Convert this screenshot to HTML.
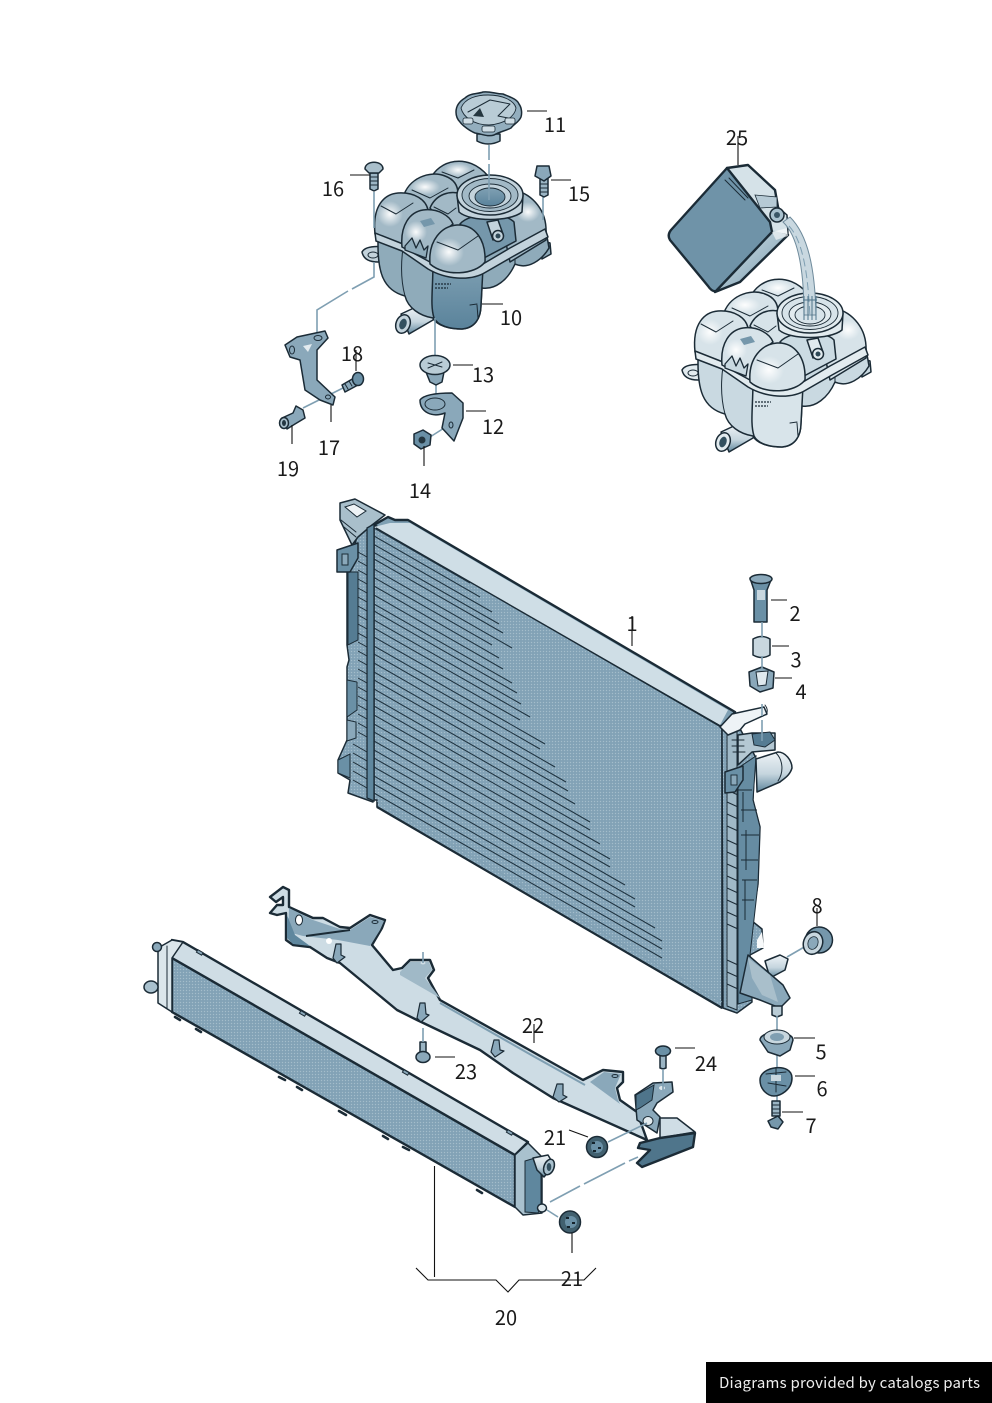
<!DOCTYPE html>
<html lang="en">
<head>
<meta charset="utf-8">
<title>Cooling system parts diagram</title>
<style>
html,body{margin:0;padding:0;background:#fff;width:992px;height:1403px;overflow:hidden}
svg{display:block}
.o{stroke:#1b2b36;stroke-width:1.5;stroke-linejoin:round;stroke-linecap:round}
.t{stroke:#1b2b36;stroke-width:1;fill:none;stroke-linecap:round;stroke-linejoin:round}
.b{stroke:#1b2b36;stroke-width:2.4;stroke-linejoin:round;stroke-linecap:round}
.l{stroke:#111;stroke-width:1.1;fill:none}
.p{stroke:#7f9fb2;stroke-width:1.6;fill:none}
text.n{font-family:"Noto Sans CJK JP","Liberation Sans",sans-serif;font-size:20px;fill:#1a1a1a;text-anchor:middle}
</style>
</head>
<body>
<svg width="992" height="1403" viewBox="0 0 992 1403" xmlns="http://www.w3.org/2000/svg">
<defs>
<pattern id="st" width="3" height="3" patternUnits="userSpaceOnUse"><rect width="3" height="3" fill="#86a5b8"/><rect width="1" height="1" fill="#a4bdcb"/><rect x="1.5" y="1.5" width="1" height="1" fill="#769aaf"/></pattern>
<radialGradient id="hl"><stop offset="0" stop-color="#fff" stop-opacity=".95"/><stop offset="1" stop-color="#fff" stop-opacity="0"/></radialGradient>
<linearGradient id="pipe" x1="0" y1="0" x2="0" y2="1"><stop offset="0" stop-color="#eef3f6"/><stop offset=".55" stop-color="#c5d5de"/><stop offset="1" stop-color="#5f869c"/></linearGradient>
<linearGradient id="front" x1="0" y1="0" x2="0" y2="1"><stop offset="0" stop-color="#7fa0b3"/><stop offset="1" stop-color="#5a839b"/></linearGradient>
<linearGradient id="jug" x1="0" y1="0" x2="1" y2="1"><stop offset="0" stop-color="#d9e5ea"/><stop offset=".55" stop-color="#a0bac8"/><stop offset="1" stop-color="#5a8197"/></linearGradient>
<g id="tank" style="stroke-linejoin:round">
  <path class="o" d="M362,252 Q366,245 385,247 L392,240 L392,262 L378,262 Q364,262 362,252Z" style="fill:var(--f)"/>
  <ellipse cx="373" cy="255" rx="5" ry="3" fill="#fff" class="t"/>
  <path class="o" d="M540,240 L550,243 L551,254 L542,259Z" style="fill:var(--b)"/>
  <path class="o" d="M401,314 L416,307 L436,312 L433,320 L409,334Z" fill="url(#pipe)"/>
  <ellipse cx="403" cy="324" rx="7" ry="9.5" transform="rotate(20 403 324)" style="fill:var(--f)" class="o"/>
  <ellipse cx="403" cy="324" rx="3.5" ry="5.5" transform="rotate(20 403 324)" fill="#33505f"/>
  <path class="o" d="M378,245 C378,270 382,290 405,296 C408,308 420,316 433,318 C437,326 450,329 462,329 C475,328 481,318 481,305 L482,288 C495,290 508,280 515,264 C528,270 542,260 549,248 L545,225 L378,225Z" style="fill:var(--b)"/>
  <path class="t" d="M403,248 C400,270 402,285 405,296"/>
  <path class="t" d="M482,268 L482,290"/>
  <path class="t" d="M515,245 V265"/>
  <path class="o" d="M433,262 C433,290 430,305 434,318 C438,326 450,329 462,329 C475,328 481,318 481,305 L483,268Z" style="fill:var(--c)"/>
  <path class="t" d="M477,305 L478,318 M470,305 L477,304"/>
  <path d="M435,284 h16 M435,288 h13" stroke="#1b2b36" stroke-width="1.2" stroke-dasharray="2 1"/>
  <path class="o" d="M430,180 C438,160 468,152 488,176 L470,210 L440,200Z" style="fill:var(--d)"/>
  <ellipse cx="458" cy="170" rx="14" ry="7" fill="url(#hl)"/>
  <path class="t" d="M442,172 L458,178 L474,170"/>
  <path class="o" d="M403,198 C408,178 430,170 445,176 C456,180 458,188 458,194 L425,215Z" style="fill:var(--d)"/>
  <ellipse cx="425" cy="187" rx="15" ry="8" fill="url(#hl)"/>
  <path class="t" d="M412,190 L430,198 L448,188"/>
  <path class="o" d="M512,190 C530,192 545,208 546,228 L546,240 L510,262 L500,215Z" style="fill:var(--d)"/>
  <ellipse cx="528" cy="212" rx="12" ry="10" fill="url(#hl)"/>
  <path class="o" d="M375,234 C372,205 385,194 398,193 C415,192 426,200 428,210 L408,232 L403,246 L385,238Z" style="fill:var(--d)"/>
  <ellipse cx="390" cy="214" rx="13" ry="13" fill="url(#hl)"/>
  <path class="t" d="M381,206 L396,214 L413,203"/>
  <path class="o" d="M430,208 C436,194 450,190 462,194 L480,225 L445,228Z" style="fill:var(--d)"/>
  <path class="t" d="M434,207 L448,214 L456,208"/>
  <path class="o" d="M375,233 L403,244 L430,262 C445,272 470,275 483,264 L510,248 L545,229 L548,237 L512,257 L486,272 C470,282 445,279 428,269 L402,251 L376,241Z" style="fill:var(--f)"/>
  <path class="o" d="M460,224 C470,212 505,212 514,222 L516,241 L484,258 L475,238Z" style="fill:var(--g)"/>
  <path class="o" d="M457,195 L459,212 C470,222 510,222 522,212 L523,195Z" style="fill:var(--f)"/>
  <ellipse cx="490" cy="195" rx="33" ry="20" style="fill:var(--f)" class="o"/>
  <ellipse cx="490" cy="195" rx="28" ry="16.5" style="fill:var(--d)" stroke="#1b2b36" stroke-width=".9"/>
  <ellipse cx="490" cy="196" rx="21" ry="12" style="fill:var(--f)" stroke="#1b2b36" stroke-width=".9"/>
  <ellipse cx="490" cy="197" rx="15" ry="9" style="fill:var(--c)" stroke="#1b2b36" stroke-width=".9"/>
  <path class="o" d="M487,222 L498,220 L503,234 L493,240Z" style="fill:var(--f)"/>
  <circle cx="498" cy="236" r="5.5" style="fill:var(--f)" class="o"/>
  <circle cx="498" cy="236" r="2.5" fill="#2e4856"/>
  <path class="o" d="M402,247 C400,225 410,212 423,210 C438,208 450,216 453,224 L436,238 L430,262Z" style="fill:var(--d)"/>
  <ellipse cx="416" cy="232" rx="11" ry="11" fill="url(#hl)"/>
  <path d="M420,221 L431,218 L435,224 L424,227Z" fill="#7597ab"/>
  <path d="M405,246 L412,238 L416,248 L420,240 L424,250 L428,246 L426,258 L405,250Z" stroke="#1b2b36" stroke-width="1.3" style="fill:var(--b)"/>
  <path class="o" d="M430,264 C428,240 442,226 457,225 C475,224 486,240 485,262 C475,275 445,277 430,264Z" style="fill:var(--d)"/>
  <ellipse cx="449" cy="252" rx="15" ry="14" fill="url(#hl)"/>
  <path class="t" d="M437,242 L458,250 L478,236"/>
</g>
</defs>

<rect width="992" height="1403" fill="#fff"/>

<use href="#tank" style="--b:#8fabba;--c:url(#front);--d:#a2b9c6;--f:#c3d3dc;--g:#7597ab"/>
<use href="#tank" x="320" y="118" style="--b:#c9d9e1;--c:#d8e4ea;--d:#d7e3e9;--f:#e2ebef;--g:#cbdbe3"/>

<g class="p">
<path d="M489,145 V160 M489,164 V200"/>
<path d="M374,192 V228 M374,262 V277 L352,289 M348,291 L317,310 V338"/>
<path d="M543,197 V220"/>
<path d="M435,318 V355 M436,385 V403 M430,437 L452,423 M303,408 L343,388"/>
</g>

<!-- cap 11 -->
<path class="o" fill="#9bb5c4" d="M477,134 H500 V141 Q488,147 477,141Z"/>
<path class="o" fill="#93aebe" d="M456,112 C456,105 460,101 465,98 C470,93 478,94 483,92 C490,91 496,94 503,94 C510,97 517,99 519,104 C522,108 522,114 521,117 C519,122 514,124 511,128 C505,131 499,132 494,135 C488,137 482,134 475,133 C470,131 463,126 460,122 C457,119 456,116 456,112Z"/>
<path fill="#b9ccd6" stroke="#1b2b36" stroke-width=".9" d="M461,108 C465,98 477,95 488,95 C502,95 514,100 516,108 C515,116 505,124 489,125 C474,125 463,117 461,108Z"/>
<path class="t" d="M468,112 L490,100 L510,104 L498,116 L508,118"/>
<path d="M473,116 L480,108 L484,117Z" fill="#24363f"/>
<rect x="482" y="126" width="13" height="6" rx="2" fill="#cfdde5" stroke="#1b2b36" stroke-width=".8"/>
<rect x="463" y="118" width="10" height="6" rx="2" fill="#cfdde5" stroke="#1b2b36" stroke-width=".8"/>
<rect x="505" y="118" width="10" height="6" rx="2" fill="#cfdde5" stroke="#1b2b36" stroke-width=".8"/>

<!-- screws top -->
<path class="o" fill="#9bb5c4" d="M370,173 H378 V189 L374,191 L370,189Z"/>
<path class="t" d="M370,177 h8 M370,181 h8 M370,185 h8"/>
<path class="o" fill="#a9bfcb" d="M365,169 C365,160 383,160 383,169 L379,173 H369Z"/>
<path class="o" fill="#9bb5c4" d="M540,178 H548 V195 L544,197 L540,195Z"/>
<path class="t" d="M540,184 h8 M540,188 h8 M540,192 h8"/>
<path class="o" fill="#8aa8ba" d="M535,176 L537,166 H549 L551,176 L544,181Z"/>

<!-- bracket 17 -->
<path class="o" fill="#8aa8ba" d="M285,345 L297,337 L325,331 L328,338 L317,350 L317,380 L335,397 L333,405 L320,400 L305,390 L300,360 L290,357Z"/>
<ellipse cx="318" cy="338" rx="4" ry="2.5" fill="#e3ebef" class="t"/>
<ellipse cx="292" cy="350" rx="2.5" ry="4" fill="#fff" class="t"/>
<path d="M303,346 L312,344 L308,352Z" fill="#e3ebef"/>
<ellipse cx="328" cy="397" rx="2.5" ry="2" fill="#fff" class="t"/>
<!-- 18 -->
<path class="o" fill="#8aa8ba" d="M342,385 L354,378 L358,385 L345,392Z"/>
<path class="t" d="M345,384 l3,5 M349,381 l3,5"/>
<ellipse cx="358" cy="379" rx="5.5" ry="6.5" fill="#6a90a6" class="o"/>
<!-- 19 -->
<path class="o" fill="#8aa8ba" d="M282,418 L293,413 L296,406 L303,410 L305,418 L295,424 L287,429Z"/>
<ellipse cx="284" cy="423" rx="4.5" ry="5.5" fill="#a9bfcb" class="o"/>
<ellipse cx="284" cy="423" rx="2" ry="3" fill="#233641"/>
<!-- 13 -->
<path class="o" fill="#8aa8ba" d="M426,372 L444,372 L442,382 L436,385 L430,382Z"/>
<ellipse cx="435" cy="365" rx="15" ry="9.5" fill="#b9ccd6" class="o"/>
<path class="t" d="M428,363 L442,367 M442,362 L428,368"/>
<!-- 12 -->
<path class="o" fill="#8aa8ba" d="M420,400 C425,393 445,393 452,393 L463,403 L463,418 L454,441 L442,428 L445,413 C432,418 420,412 420,400Z"/>
<ellipse cx="435" cy="404" rx="10" ry="6" fill="#fff" class="t"/>
<ellipse cx="451" cy="425" rx="2" ry="3" fill="#e3ebef" class="t"/>
<!-- 14 -->
<path class="o" fill="#6a90a6" d="M414,434 L423,430 L431,435 L430,445 L421,449 L414,444Z"/>
<circle cx="422" cy="440" r="3.5" fill="#24363f"/>

<!-- jug 25 -->
<path class="o" fill="#d5e2e8" d="M727,168 L748,165 L775,190 L778,207 L787,215 L788,235 L772,232Z"/>
<path fill="url(#jug)" d="M772,230 L788,235 L740,282 L715,292Z"/>
<path class="b" fill="#6f93a8" d="M727,168 L770,222 L772,232 L716,291 Q712,292 708,286 L670,240 Q667,235 671,230Z"/>
<path class="t" d="M725,180 L745,200 M729,178 L748,198"/>
<path class="b" fill="none" d="M727,168 L748,165 L775,190 L778,207 M788,235 L740,282 L715,292"/>
<path fill="#b6cad5" stroke="#1b2b36" stroke-width=".8" d="M755,195 L777,197 L777,207 L760,208Z"/>
<path fill="#fff" opacity=".6" d="M772,232 L787,228 L788,236 L776,240Z"/>
<path fill="#c9d8e0" stroke="#6e8a9b" stroke-width="1" d="M783,222 C798,236 804,270 804,315 L816,315 C815,268 808,235 790,217Z"/>
<path stroke="#7f9fb2" stroke-width="1" stroke-dasharray="8 4" fill="none" d="M789,226 C802,240 808,270 810,318"/>
<circle cx="777" cy="215" r="7" fill="#a9c1ce" class="o"/>
<circle cx="777" cy="215" r="3" fill="#3a5666"/>
<path stroke="#4e7389" stroke-width="1" fill="none" d="M804,296 V320 M808,296 V320 M812,296 V320 M816,296 V320 M803,300 H817"/>

<!-- RADIATOR -->
<path class="o" fill="url(#st)" d="M358,533 L347,572 L347,645 L349,660 L347,667 L347,717 L347,740 L338,760 L338,773 L350,780 L348,793 L373,802 L375,525Z"/>
<path fill="#557c93" stroke="#1b2b36" stroke-width="1" d="M348,572 H358 V640 L348,645Z"/>
<path fill="#6a90a6" stroke="#1b2b36" stroke-width="1" d="M347,680 L357,682 V710 L347,717Z"/>
<path fill="#6a90a6" stroke="#1b2b36" stroke-width="1" d="M338,760 L350,754 V778 L338,773Z"/>
<path fill="#8aa8ba" stroke="#1b2b36" stroke-width="1" d="M347,720 L356,722 V738 L347,741Z"/>
<path stroke="#1b2b36" stroke-width="1" fill="none" d="M358,552 l9,5 M358,561 l9,5 M358,570 l9,5 M358,579 l9,5 M358,588 l9,5 M358,597 l9,5 M358,606 l9,5 M358,615 l9,5 M358,624 l9,5 M358,633 l9,5 M358,642 l9,5 M358,651 l9,5 M358,660 l9,5 M358,669 l9,5 M358,678 l9,5 M358,687 l9,5 M358,696 l9,5 M358,705 l9,5 M358,714 l9,5 M358,723 l9,5 M358,732 l9,5 M353,744 l14,8 M353,753 l14,8 M353,762 l14,8 M353,771 l14,8 M353,780 l14,8"/>
<path class="o" fill="#a9bfcb" d="M340,503 L355,499 L385,515 L372,525 L358,537 L352,545 L340,520Z"/>
<path fill="#eef3f6" stroke="#1b2b36" stroke-width="1" d="M345,507 L354,504 L366,511 L357,517Z"/>
<path class="t" d="M341,520 L356,532 M344,527 L356,537"/>
<path class="o" fill="#6a90a6" d="M337,550 L358,543 L358,558 L350,572 L337,572Z"/>
<rect x="342" y="554" width="6" height="11" fill="#8aa8ba" stroke="#1b2b36" stroke-width="1"/>
<!-- face -->
<path fill="url(#st)" stroke="#1b2b36" stroke-width="1.6" stroke-linejoin="round" d="M374,526 L722,727 L722,1008 L377,807 L377,800 L374,800Z"/>
<path stroke="#1f3340" stroke-width="1.05" fill="none" d="M374,528 L470,583 M374,536 L480,597 M374,544.5 L492,612 M374,552.5 L499,624 M374,559 L503,633 M374,569 L512,648 M374,577.5 L492,645 M374,586 L499,658 M374,595 L503,669 M374,604 L512,683 M374,611 L517,693 M374,620 L521,704 M374,628 L530,717 M374,637 L520,720 M374,646 L545,744 M374,654 L540,749 M374,663 L555,767 M374,672 L566,782 M374,680 L568,791 M374,689 L575,804 M374,698 L590,822 M374,706 L590,830 M374,715 L600,844 M374,724 L610,859 M374,732 L610,867 M374,741 L625,885 M374,750 L635,899 M374,758 L635,907 M374,767 L655,928 M374,776 L662,941 M374,784 L662,949 M374,793 L662,958"/>
<path fill="#7fa0b3" class="b" d="M374,525 L388,517 L395,520 L408,520 L735,712 L722,727Z"/>
<path fill="#cfdee6" d="M374,527 L390,523 L410,523 L728,710 L720,725Z"/>
<path stroke="#1b2b36" stroke-width="1.4" fill="none" d="M376,528 L722,727"/>
<path fill="#5f879e" stroke="#1b2b36" stroke-width="1.3" d="M367,528 L374,524 L374,801 L367,798Z"/>
<path stroke="#1b2b36" stroke-width="2.2" fill="none" d="M377,807 L722,1008"/>
<path stroke="#7f9fb2" stroke-width="1" fill="none" d="M377,801 L722,1002"/>
<!-- right tank -->
<path class="o" fill="url(#st)" d="M722,727 L733,716 L755,756 L753,800 L760,827 L758,884 L752,921 L762,929 L763,948 L750,955 L752,1002 L737,1013 L723,1008Z"/>
<path fill="#a0b9c7" stroke="#1b2b36" stroke-width="1" d="M727,732 L737,732 L737,1010 L727,1006Z"/>
<path fill="#668ca2" stroke="#1b2b36" stroke-width="1" d="M738,768 L756,756 L753,800 L760,827 L758,884 L750,955 L752,1000 L738,1004Z"/>
<path stroke="#1b2b36" stroke-width="1" fill="none" d="M727,790 l11,5 M727,802 l11,5 M727,814 l11,5 M727,826 l11,5 M727,840 l11,5 M727,852 l11,5 M727,864 l11,5 M727,876 l11,5 M727,888 l11,5 M727,900 l11,5 M727,912 l11,5 M727,924 l11,5 M727,960 l11,5 M727,972 l11,5 M727,984 l11,5 M738,790 h14 M741,810 h16 M741,835 h18 M741,860 h17 M742,880 h15 M742,900 h12 M743,792 v30 M746,830 v40 M745,880 v40"/>
<!-- pipe upper right -->
<path class="o" fill="url(#pipe)" d="M756,759 L778,752 C785,752 792,760 792,768 C790,775 785,778 780,782 L757,792Z"/>
<path class="t" d="M776,753 C783,760 784,772 778,781"/>
<!-- top box and clip -->
<path class="o" fill="#b4c8d3" d="M738,735 L752,733 L775,733 L775,750 L752,752 L738,765Z"/>
<path class="o" fill="#eef3f6" d="M720,727 L732,714 L764,707 L767,714 L745,724 L740,730 L728,735Z"/>
<path class="t" d="M765,705 Q769,710 766,715"/>
<path fill="#557c93" stroke="#1b2b36" stroke-width="1" d="M752,734 L770,732 L775,740 L765,747 L754,745Z"/>
<path class="t" d="M732,740 h12 M732,746 h12 M733,752 h12"/>
<path class="o" fill="#6a90a6" d="M725,772 L743,766 L743,780 L735,792 L725,793Z"/>
<rect x="731" y="775" width="6" height="10" fill="#8aa8ba" stroke="#1b2b36" stroke-width=".9"/>
<!-- lower right -->
<path class="o" fill="url(#pipe)" d="M765,961 L780,955 L788,959 L785,970 L770,978Z"/>
<path class="o" fill="#8aa8ba" d="M748,955 L783,985 L790,998 L780,1008 L760,1000 L740,993Z"/>
<path fill="#a9bfcb" d="M748,958 L770,975 L778,1002 L762,995 L752,978Z"/>
<path class="o" fill="#b9ccd6" d="M772,1006 H782 V1015 L777,1017 L772,1015Z"/>
<path fill="#f7f9fa" d="M762,932 L764,948 L757,948 L757,940Z"/>

<!-- parts 2 3 4 -->
<path class="o" fill="#6a90a6" d="M750,578 L754,590 L754,622 L767,622 L767,590 L771,580Z"/>
<ellipse cx="761" cy="579" rx="11" ry="4.5" fill="#8aa8ba" class="o"/>
<path d="M757,590 h8 v10 h-8z" fill="#c8d7df"/>
<path class="o" fill="#c8d7df" d="M753,639 Q762,634 770,639 L770,655 Q762,660 753,655Z"/>
<path class="o" fill="#8aa8ba" d="M749,672 L762,667 L774,672 L773,688 L760,692 L750,686Z"/>
<path fill="#dfe9ee" stroke="#1b2b36" stroke-width="1" d="M756,672 L768,671 L766,685 L758,686Z"/>
<g class="p">
<path d="M762,622 V638 M762,656 V668 M762,704 V716 M762,720 V741"/>
<path d="M787,957 L806,946"/>
<path d="M777,1016 V1033 M777,1048 V1068 M777,1092 V1118"/>
</g>
<!-- 8 -->
<ellipse cx="819" cy="940" rx="13.5" ry="13" fill="#7597ab" class="o"/>
<ellipse cx="813" cy="943" rx="9.5" ry="11.5" transform="rotate(20 813 943)" fill="#c8d7df" class="o"/>
<ellipse cx="813" cy="943" rx="5" ry="6.5" transform="rotate(20 813 943)" fill="#8aa8ba" stroke="#1b2b36" stroke-width=".8"/>
<!-- 5 -->
<path class="o" fill="#8aa8ba" d="M760,1040 C760,1030 793,1030 793,1040 L790,1050 L780,1056 L768,1052Z"/>
<ellipse cx="777" cy="1037" rx="13" ry="7" fill="#c8d7df" stroke="#1b2b36" stroke-width="1"/>
<ellipse cx="777" cy="1037" rx="7" ry="4" fill="#7f9fb2"/>
<!-- 6 -->
<path class="o" fill="#6a90a6" d="M760,1080 C760,1066 792,1062 792,1078 C792,1090 780,1096 774,1096 C768,1096 760,1090 760,1080Z"/>
<path class="t" d="M766,1074 L786,1072 M768,1083 L786,1086 M776,1068 V1092"/>
<rect x="771" y="1075" width="10" height="6" fill="#c8d7df"/>
<!-- 7 -->
<path class="o" fill="#9bb5c4" d="M772,1101 H780 V1116 H772Z"/>
<path class="t" d="M772,1105 h8 M772,1109 h8 M772,1113 h8"/>
<path class="o" fill="#7597ab" d="M768,1121 L778,1116 L783,1122 L778,1129 L771,1127Z"/>

<!-- BRACKET 22 -->
<path class="b" fill="#cddce4" d="M270,897 L283,887 L289,890 L289,907 L313,918 L323,918 L340,927 L350,928 L370,915 L385,920 L382,928 L372,945 L393,970 L402,968 L410,960 L430,960 L434,970 L428,978 L440,1000 L533,1052 L583,1080 L603,1070 L623,1072 L623,1082 L617,1088 L620,1100 L637,1112 L647,1140 L553,1098 L513,1073 L480,1050 L417,1020 L397,1010 L340,963 L327,958 L310,947 L293,945 L286,940 L286,913 L277,915 L270,913 L277,905 L283,905 L283,897 L276,902Z"/>
<path fill="#8aa8ba" d="M289,908 L313,920 L340,929 L350,930 L370,917 L384,921 L380,930 L370,946 L338,940 L303,936 L288,932Z"/>
<path fill="#5f879e" d="M287,915 L295,935 L325,957 L310,946 L293,944 L287,938Z"/>
<path stroke="#1b2b36" stroke-width="2" fill="none" d="M306,936 L350,930"/>
<circle cx="329" cy="941" r="3" fill="#fff"/>
<ellipse cx="299" cy="920" rx="3.5" ry="5" fill="#fff" stroke="#1b2b36" stroke-width="1"/>
<ellipse cx="375" cy="922" rx="3" ry="1.5" fill="none" stroke="#1b2b36" stroke-width="1"/>
<path fill="#a0b9c7" d="M400,972 L410,962 L429,962 L432,970 L425,978 L440,998 L400,975Z"/>
<ellipse cx="423" cy="963" rx="2.5" ry="1.5" fill="#cfdde5"/>
<path fill="#8aa8ba" d="M590,1082 L604,1072 L621,1074 L615,1088 L618,1100 L620,1104Z"/>
<ellipse cx="615" cy="1076" rx="3" ry="1.5" fill="none" stroke="#1b2b36" stroke-width="1"/>
<path stroke="#7f9fb2" stroke-width="2" fill="none" d="M440,1003 L533,1056 L585,1085"/>
<g fill="#8aa8ba" stroke="#1b2b36" stroke-width="1.2" stroke-linejoin="round">
<path d="M333,958 L336,944 L341,944 L341,955 L345,957 L337,963Z"/>
<path d="M417,1018 L420,1003 L425,1003 L426,1014 L429,1015 L421,1022Z"/>
<path d="M491,1052 L494,1040 L499,1040 L500,1050 L504,1051 L495,1057Z"/>
<path d="M553,1097 L557,1084 L563,1084 L563,1095 L567,1097 L559,1102Z"/>
</g>
<path class="o" fill="#cfdde5" d="M660,1118 L677,1118 L695,1132 L660,1138Z"/>
<path class="b" fill="#4f758b" d="M695,1133 L693,1147 L642,1167 L637,1163 L650,1150 L638,1148 L640,1143 L660,1138Z"/>
<path class="o" fill="#8aa8ba" d="M635,1095 L653,1083 L672,1082 L673,1092 L657,1103 L653,1110 L660,1117 L657,1133 L637,1120Z"/>
<path fill="#4f758b" stroke="#1b2b36" stroke-width="1" d="M636,1095 L654,1085 L652,1100 L640,1108 L636,1110Z"/>
<ellipse cx="662" cy="1088" rx="3" ry="2" fill="#e3ebef"/>
<ellipse cx="648" cy="1121" rx="5" ry="4.5" fill="#e3ebef" stroke="#1b2b36" stroke-width="1"/>

<!-- COOLER 20 -->
<path class="b" fill="url(#st)" d="M172,958 L515,1155 L515,1207 L172,1012Z"/>
<path class="b" fill="#cfdde5" d="M172,940 L183,942 L528,1142 L515,1155 L172,958Z"/>
<path class="o" fill="#dbe6eb" d="M158,948 L172,940 L183,942 L172,958 L172,1012 L158,1003Z"/>
<path class="t" d="M167,946 V1008"/>
<circle cx="157" cy="947" r="4.5" fill="#8aa8ba" class="o"/>
<ellipse cx="151" cy="987" rx="7" ry="6" fill="#a9c1ce" class="o"/>
<g fill="#8aa8ba" stroke="#1b2b36" stroke-width="1">
<rect x="197" y="951" width="6" height="3" transform="rotate(30 200 952)"/>
<rect x="300" y="1012" width="6" height="3" transform="rotate(30 303 1013)"/>
<rect x="403" y="1071" width="6" height="3" transform="rotate(30 406 1072)"/>
<rect x="507" y="1131" width="6" height="3" transform="rotate(30 510 1132)"/>
</g>
<g stroke="#1b2b36" stroke-width="2.6" fill="none" stroke-linecap="round">
<path d="M175,1017 l5,3 M196,1029 l5,3 M279,1077 l6,3 M297,1087 l5,3 M339,1111 l7,4 M383,1136 l5,3 M403,1147 l6,3 M477,1190 l5,3"/>
</g>
<path class="o" fill="#a9c1ce" d="M515,1155 L528,1143 L542,1157 L542,1213 L523,1215 L515,1207Z"/>
<path fill="#5f879e" stroke="#1b2b36" stroke-width="1" d="M525,1161 L535,1158 L541,1175 L541,1205 L538,1213 L525,1212Z"/>
<path class="o" fill="url(#pipe)" d="M533,1158 L548,1155 L554,1165 L544,1177 L537,1170Z"/>
<ellipse cx="549" cy="1167" rx="5" ry="8" transform="rotate(20 549 1167)" fill="#a9c1ce" class="o"/>
<ellipse cx="549" cy="1167" rx="2.3" ry="4" fill="#33505f"/>
<ellipse cx="542" cy="1208" rx="4.5" ry="4" fill="#dbe6eb" class="o"/>

<!-- knobs -->
<ellipse cx="597" cy="1147" rx="10.5" ry="10.5" fill="#41606f" class="o"/>
<circle cx="597" cy="1147" r="6" fill="#6a90a6"/>
<path d="M592,1143 h3 M598,1148 h3 M593,1151 h3" stroke="#14222b" stroke-width="2"/>
<ellipse cx="570" cy="1222" rx="10.5" ry="11" fill="#41606f" class="o"/>
<circle cx="571" cy="1222" r="6" fill="#6a90a6"/>
<path d="M566,1218 h3 M572,1223 h3 M567,1227 h3" stroke="#14222b" stroke-width="2"/>

<!-- screws 23/24 -->
<path class="o" fill="#9bb5c4" d="M420,1042 H426 V1053 H420Z"/>
<ellipse cx="423" cy="1057" rx="7" ry="5.5" fill="#8aa8ba" class="o"/>
<path class="o" fill="#9bb5c4" d="M660,1055 H666 V1068 L663,1069 L660,1068Z"/>
<ellipse cx="663" cy="1051" rx="7.5" ry="5" fill="#6a90a6" class="o"/>

<g class="p">
<path d="M423,952 V963 M423,1028 V1042"/>
<path d="M663,1069 V1090"/>
<path d="M608,1142 L647,1123"/>
<path d="M550,1202 L580,1186 M584,1184 L625,1163 M629,1161 L638,1157"/>
<path d="M547,1210 L558,1217"/>
</g>

<!-- leaders -->
<g class="l">
<path d="M632,616 V646"/>
<path d="M771,600 H787 M772,646 H789 M775,678 H792"/>
<path d="M794,1038 H815 M795,1076 H815 M782,1112 H803"/>
<path d="M817,908 V926"/>
<path d="M482,304 H503 M527,111 H547 M466,411 H486 M453,365 H473"/>
<path d="M424,446 V466 M551,180 H571 M350,175 H370"/>
<path d="M331,405 V422 M356,350 V371 M292,425 V444"/>
<path d="M416,1268 L428,1280 H496 L508,1292 L519,1280 H584 L596,1268"/>
<path d="M434.5,1166 V1277"/>
<path d="M569,1130 L588,1137 M572,1233 V1253"/>
<path d="M534,1024 V1043 M435,1057 H455 M675,1048 H695"/>
<path d="M738,136 V165"/>
</g>

<!-- labels -->
<g>
<text class="n" x="632" y="631">1</text>
<text class="n" x="795" y="621">2</text>
<text class="n" x="796" y="667">3</text>
<text class="n" x="801" y="699">4</text>
<text class="n" x="821" y="1059">5</text>
<text class="n" x="822" y="1096">6</text>
<text class="n" x="811" y="1133">7</text>
<text class="n" x="817" y="913">8</text>
<text class="n" x="511" y="325">10</text>
<text class="n" x="555" y="132">11</text>
<text class="n" x="493" y="434">12</text>
<text class="n" x="483" y="382">13</text>
<text class="n" x="420" y="498">14</text>
<text class="n" x="579" y="201">15</text>
<text class="n" x="333" y="196">16</text>
<text class="n" x="329" y="455">17</text>
<text class="n" x="352" y="361">18</text>
<text class="n" x="288" y="476">19</text>
<text class="n" x="506" y="1325">20</text>
<text class="n" x="555" y="1145">21</text>
<text class="n" x="572" y="1286">21</text>
<text class="n" x="533" y="1033">22</text>
<text class="n" x="466" y="1079">23</text>
<text class="n" x="706" y="1071">24</text>
<text class="n" x="737" y="145">25</text>
</g>

<!-- footer -->
<rect x="706" y="1362" width="286" height="41" fill="#000"/>
<text x="719" y="1388" font-family="'Noto Sans CJK JP','Liberation Sans',sans-serif" font-size="15" fill="#eeeeee" textLength="261" lengthAdjust="spacing">Diagrams provided by catalogs parts</text>
</svg>
</body>
</html>
